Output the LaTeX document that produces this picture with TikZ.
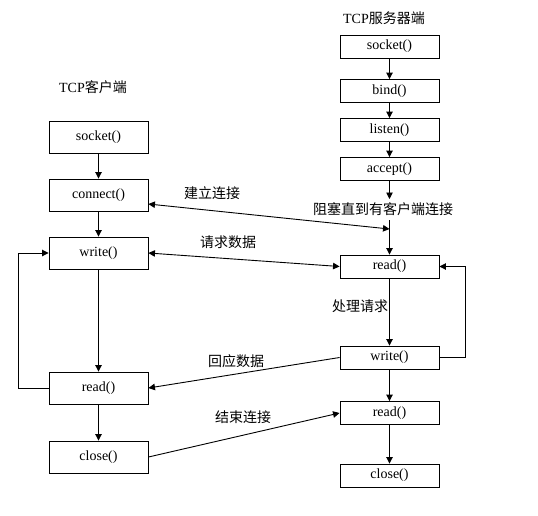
\documentclass[tikz,border=0pt]{standalone}
\usepackage{fontspec}
\setmainfont{Liberation Serif}
\newfontfamily\cjk{Noto Sans CJK SC}
\usetikzlibrary{arrows.meta,calc}
\tikzset{
  fbox/.style={draw=black, line width=0.9pt, rectangle, minimum width=99pt, inner sep=0pt, font=\fontsize{14}{16}\selectfont},
  cbox/.style={fbox, minimum height=32pt},
  sbox/.style={fbox, minimum height=23pt},
  lbl/.style={inner sep=0pt, font=\fontsize{14}{16}\selectfont\cjk},
  tip/.tip={Triangle[length=6.5pt,width=6.5pt]},
  conn/.style={line width=0.9pt, -tip},
  bconn/.style={line width=0.9pt, tip-tip},
}
\begin{document}
\begin{tikzpicture}[x=1pt,y=-1pt]
\useasboundingbox (0,0) rectangle (538,515);
% titles
\node[inner sep=0pt, font=\fontsize{14}{16}\selectfont] (tc) at (93,87) {TCP{\cjk 客户端}};
\node[inner sep=0pt, font=\fontsize{14}{16}\selectfont] (ts) at (384,18) {TCP{\cjk 服务器端}};
% client
\node[cbox] (csocket) at (98.5,137) {socket()};
\node[cbox] (cconnect) at (98.5,195) {connect()};
\node[cbox] (cwrite) at (98.5,253) {write()};
\node[cbox] (cread) at (98.5,388) {read()};
\node[cbox] (cclose) at (98.5,457) {close()};
% server
\node[sbox] (ssocket) at (389.5,46.5) {socket()};
\node[sbox] (sbind) at (389.5,91) {bind()};
\node[sbox] (slisten) at (389.5,130) {listen()};
\node[sbox] (saccept) at (389.5,169) {accept()};
\node[sbox] (sread) at (389.5,266.5) {read()};
\node[sbox] (swrite) at (389.5,357.5) {write()};
\node[sbox] (sread2) at (389.5,413) {read()};
\node[sbox] (sclose) at (389.5,475.5) {close()};
% labels
\node[lbl] (block) at (383,209) {阻塞直到有客户端连接};
\node[lbl] (l1) at (212,193) {建立连接};
\node[lbl] (l2) at (228,242) {请求数据};
\node[lbl] (l3) at (236,361) {回应数据};
\node[lbl] (l4) at (243,417) {结束连接};
\node[lbl] (l5) at (360,306) {处理请求};
\coordinate (b1) at (389.5,199);
\coordinate (b2) at (389.5,220);
\coordinate (join) at (389.5,229);
\coordinate (ce) at ($(cconnect.east)+(0,9)$);
% client arrows
\draw[conn] (csocket) -- (cconnect);
\draw[conn] (cconnect) -- (cwrite);
\draw[conn] (cwrite) -- (cread);
\draw[conn] (cread) -- (cclose);
\draw[conn] (cread.west) -- ++(-30,0) |- (cwrite.west);
% server arrows
\draw[conn] (ssocket) -- (sbind);
\draw[conn] (sbind) -- (slisten);
\draw[conn] (slisten) -- (saccept);
\draw[conn] (saccept) -- (b1);
\draw[conn] (b2) -- (sread);
\draw[conn] (sread) -- (swrite);
\draw[conn] (swrite) -- (sread2);
\draw[conn] (sread2) -- (sclose);
\draw[conn] (swrite.east) -- ++(26,0) |- (sread.east);
% cross arrows
\draw[bconn] (ce) -- (join);
\draw[bconn] (cwrite.east) -- (sread.west);
\draw[conn] (swrite.west) -- (cread.east);
\draw[conn] (cclose.east) -- (sread2.west);
\end{tikzpicture}
\end{document}
